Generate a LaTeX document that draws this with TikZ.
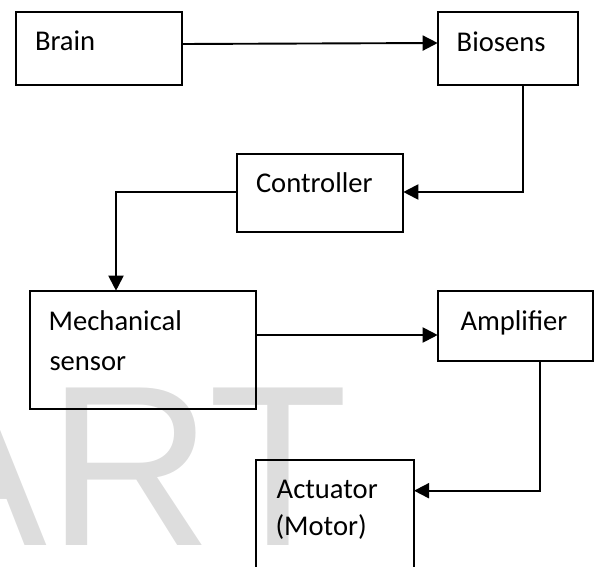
\documentclass[tikz,border=0pt]{standalone}
\usepackage{fontspec}
\setmainfont{Carlito}
\newfontfamily\wmfont{Liberation Sans}
\usetikzlibrary{arrows.meta}
\definecolor{wmgray}{RGB}{221,221,221}
\tikzset{
  boxnode/.style={draw=black, line width=1.9pt, inner sep=0pt, outer sep=0pt},
  lbl/.style={anchor=base west, inner sep=0pt, outer sep=0pt, font=\fontsize{28.6}{34}\selectfont},
  conn/.style={line width=1.9pt, -{Triangle[length=15pt,width=15pt]}},
}
\begin{document}
\begin{tikzpicture}[x=1pt,y=-1pt]
\useasboundingbox (0,0) rectangle (594,567);
\clip (0,0) rectangle (594,567);
% watermark
\node[anchor=base west, inner sep=0pt, outer sep=0pt, text=wmgray,
      font=\wmfont\fontsize{229}{229}\selectfont] (wm) at (-105,545.7) {ART};
% boxes
\node[boxnode, minimum width=166.3pt, minimum height=73.6pt] (brain) at (98.85,48.5) {};
\node[boxnode, minimum width=140.3pt, minimum height=73.3pt] (biosens) at (507.85,48.65) {};
\node[boxnode, minimum width=166.6pt, minimum height=78pt] (controller) at (320,193.3) {};
\node[boxnode, minimum width=226pt, minimum height=118.3pt] (mech) at (143,349.85) {};
\node[boxnode, minimum width=155.6pt, minimum height=70.3pt] (amp) at (515.5,325.85) {};
\node[boxnode, minimum width=158.3pt, minimum height=160pt] (actuator) at (334.85,540) {};
% labels
\node[lbl] (tbrain) at (35,51) {Brain};
\node[lbl] (tbio) at (456.7,51.7) {Biosens};
\node[lbl] (tctrl) at (256,192.7) {Controller};
\node[lbl] (tmech1) at (48.7,330) {Mechanical};
\node[lbl] (tmech2) at (49.5,370.7) {sensor};
\node[lbl] (tamp) at (460.5,330) {Amplifier};
\node[lbl] (tact1) at (276.7,498.5) {Actuator};
\node[lbl] (tact2) at (275.5,535) {(Motor)};
% connector helpers
\coordinate (y1a) at (0,44);
\coordinate (y1b) at (0,43);
\coordinate (c1) at (522.7,192);
\coordinate (c2) at (116,192.3);
\coordinate (y3) at (0,335);
\coordinate (c4) at (540,490.7);
% connectors
\draw[conn] (brain.east |- y1a) -- (biosens.west |- y1b);
\draw[conn] (c1 |- biosens.south) -- (c1) -- (controller.east |- c1);
\draw[conn] (controller.west |- c2) -- (c2) -- (c2 |- mech.north);
\draw[conn] (mech.east |- y3) -- (amp.west |- y3);
\draw[conn] (c4 |- amp.south) -- (c4) -- (actuator.east |- c4);
\end{tikzpicture}
\end{document}
